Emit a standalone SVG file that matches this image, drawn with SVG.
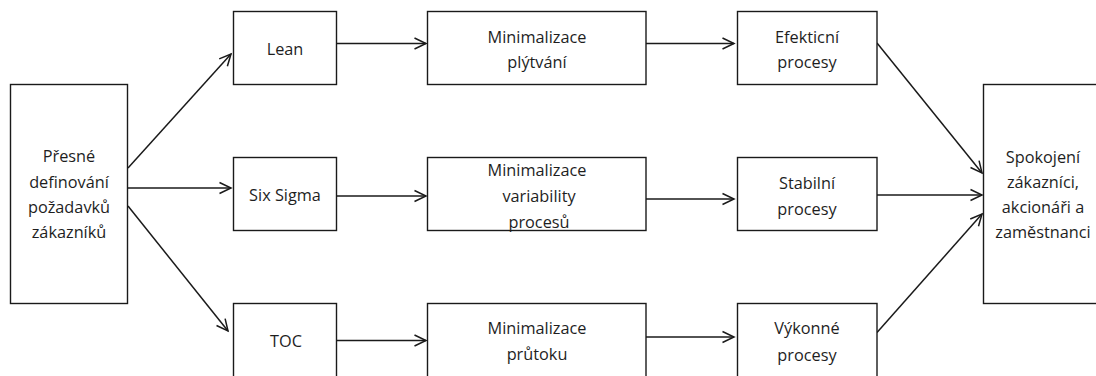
<svg xmlns="http://www.w3.org/2000/svg" width="1096" height="376" viewBox="0 0 1096 376">
<style>
.box{fill:#fff;stroke:#1a1a1a;stroke-width:1.4}
.t{font-family:"Open Sans","Liberation Sans",sans-serif;font-size:16.3px;fill:#1e1e1e;text-anchor:middle}
.c{stroke:#1a1a1a;stroke-width:1.5;fill:none;marker-end:url(#ah)}
</style>
<defs>
<marker id="ah" markerUnits="userSpaceOnUse" markerWidth="14" markerHeight="14" refX="11.5" refY="5.5" orient="auto" overflow="visible">
<path d="M0,0 L11.5,5.5 L0,11" fill="none" stroke="#1a1a1a" stroke-width="1.5"/>
</marker>
</defs>
<rect width="1096" height="376" fill="#fff"/>
<g id="connectors">
<line class="c" x1="128" y1="168" x2="231" y2="54"/>
<line class="c" x1="128" y1="188" x2="231" y2="188"/>
<line class="c" x1="128" y1="206" x2="228" y2="331"/>
<line class="c" x1="336" y1="43.5" x2="426" y2="43.5"/>
<line class="c" x1="336" y1="196" x2="426" y2="196"/>
<line class="c" x1="336" y1="340.5" x2="426" y2="340.5"/>
<line class="c" x1="646" y1="43.5" x2="734" y2="43.5"/>
<line class="c" x1="646" y1="199" x2="734" y2="199"/>
<line class="c" x1="646" y1="337" x2="734" y2="337"/>
<line class="c" x1="877" y1="43" x2="982" y2="173"/>
<line class="c" x1="877" y1="195" x2="982" y2="195"/>
<line class="c" x1="877" y1="332.5" x2="982" y2="214"/>
</g>
<g id="n-zakaznici">
<rect class="box" x="10.5" y="84.5" width="117" height="219"/>
<text class="t" x="69" y="162">Přesné</text>
<text class="t" x="69" y="187.5">definování</text>
<text class="t" x="69" y="212.5">požadavků</text>
<text class="t" x="69" y="238">zákazníků</text>
</g>
<g id="n-lean">
<rect class="box" x="233.5" y="11.5" width="103" height="73"/>
<text class="t" x="285" y="55">Lean</text>
</g>
<g id="n-sixsigma">
<rect class="box" x="233.5" y="157.5" width="103" height="73"/>
<text class="t" x="285" y="201">Six Sigma</text>
</g>
<g id="n-toc">
<rect class="box" x="233.5" y="303.5" width="103" height="80"/>
<text class="t" x="286" y="346.5">TOC</text>
</g>
<g id="n-plytvani">
<rect class="box" x="427.5" y="11.5" width="218.5" height="73"/>
<text class="t" x="537" y="42.5">Minimalizace</text>
<text class="t" x="537" y="68">plýtvání</text>
</g>
<g id="n-variabilita">
<rect class="box" x="427.5" y="157.5" width="218.5" height="73"/>
<text class="t" x="537" y="175.5">Minimalizace</text>
<text class="t" x="539" y="201.5">variability</text>
<text class="t" x="539" y="227.5">procesů</text>
</g>
<g id="n-prutok">
<rect class="box" x="427.5" y="303.5" width="218.5" height="80"/>
<text class="t" x="537" y="334">Minimalizace</text>
<text class="t" x="537" y="360">průtoku</text>
</g>
<g id="n-efektivni">
<rect class="box" x="737.5" y="11.5" width="139.5" height="73"/>
<text class="t" x="807" y="42.5">Efekticní</text>
<text class="t" x="807" y="68">procesy</text>
</g>
<g id="n-stabilni">
<rect class="box" x="737.5" y="157.5" width="139.5" height="73"/>
<text class="t" x="807" y="189">Stabilní</text>
<text class="t" x="807" y="215">procesy</text>
</g>
<g id="n-vykonne">
<rect class="box" x="737.5" y="303.5" width="139.5" height="80"/>
<text class="t" x="807" y="334">Výkonné</text>
<text class="t" x="807" y="360.5">procesy</text>
</g>
<g id="n-spokojeni">
<rect class="box" x="983.5" y="84.5" width="130" height="219"/>
<text class="t" x="1043" y="162.5">Spokojení</text>
<text class="t" x="1043" y="188">zákazníci,</text>
<text class="t" x="1043" y="213">akcionáři a</text>
<text class="t" x="1043" y="238">zaměstnanci</text>
</g>
</svg>
